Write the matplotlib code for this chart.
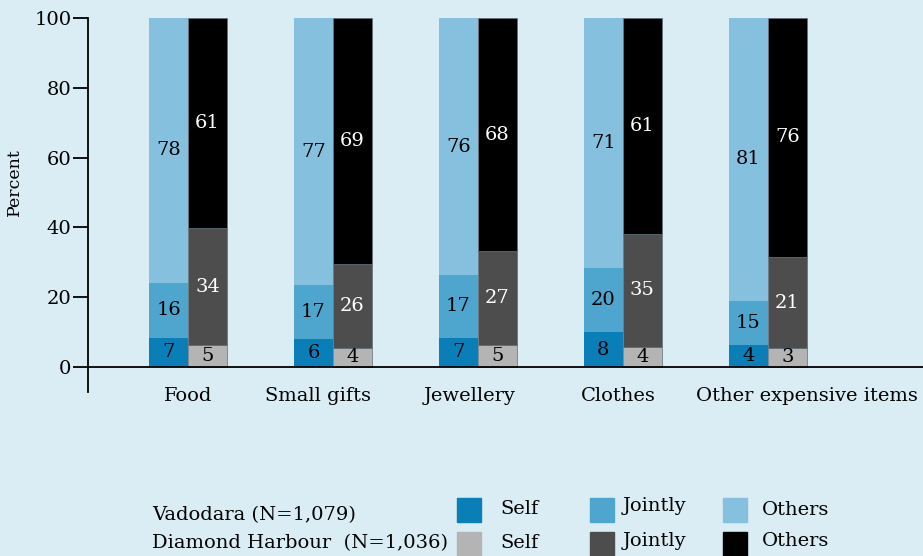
"""Who decides purchases: Vadodara vs Diamond Harbour, stacked percent bars."""
import numpy as np
import matplotlib.pyplot as plt
from matplotlib.patches import Rectangle

categories = ["Food", "Small gifts", "Jewellery", "Clothes", "Other expensive items"]
groups = ["Self", "Jointly", "Others"]

# segment heights as drawn in the source chart (percent), stacked bottom-up
vadodara = {
    "Self": [8.4, 7.9, 8.4, 9.9, 6.2],
    "Jointly": [15.7, 15.5, 17.9, 18.4, 12.7],
    "Others": [75.9, 76.6, 73.7, 71.7, 81.1],
}
diamond = {
    "Self": [6.2, 5.4, 6.2, 5.6, 5.4],
    "Jointly": [33.5, 24.0, 27.0, 32.6, 26.1],
    "Others": [60.3, 70.6, 66.8, 61.8, 68.5],
}
# printed (rounded) labels inside each segment
vadodara_labels = {
    "Self": [7, 6, 7, 8, 4],
    "Jointly": [16, 17, 17, 20, 15],
    "Others": [78, 77, 76, 71, 81],
}
diamond_labels = {
    "Self": [5, 4, 5, 4, 3],
    "Jointly": [34, 26, 27, 35, 21],
    "Others": [61, 69, 68, 61, 76],
}
region_labels = ["Vadodara (N=1,079)", "Diamond Harbour  (N=1,036)"]
y_ticks = [0, 20, 40, 60, 80, 100]

BG = "#daedf4"
V_COLORS = {"Self": "#0a7eb6", "Jointly": "#4ea6ce", "Others": "#85c1de"}
D_COLORS = {"Self": "#b4b4b4", "Jointly": "#4d4d4d", "Others": "#000000"}
V_TEXT = {"Self": "black", "Jointly": "black", "Others": "black"}
D_TEXT = {"Self": "black", "Jointly": "white", "Others": "white"}
# category captions sit a little off the bar pairs in the original layout
CAPTION_SHIFT = [0.0, -0.1, -0.06, -0.03, 0.27]

plt.rcParams["font.family"] = ["DejaVu Serif"]
plt.rcParams["font.size"] = 14

fig = plt.figure(figsize=(9.23, 5.56), dpi=100, facecolor=BG)
ax = fig.add_axes([88 / 923, 1 - 392 / 556, 835 / 923, 374 / 556])
ax.set_facecolor(BG)

x = np.arange(len(categories))
width = 0.269
series = [
    (vadodara, vadodara_labels, V_COLORS, V_TEXT, -width / 2, "none"),
    (diamond, diamond_labels, D_COLORS, D_TEXT, width / 2, "#60717a"),
]
for data, labels, colors, text_colors, offset, edge in series:
    bottom = np.zeros(len(categories))
    for g in groups:
        vals = np.array(data[g], dtype=float)
        bars = ax.bar(x + offset, vals, width, bottom=bottom, color=colors[g],
                      edgecolor=edge, linewidth=0.5)
        ax.bar_label(bars, labels=[str(v) for v in labels[g]], label_type="center",
                     color=text_colors[g], fontsize=14)
        bottom += vals

ax.set_xlim(-0.69, 5.07)
ax.set_ylim(-7.2, 100)
ax.axhline(0, color="black", linewidth=1.3)
for side in ["top", "right", "bottom"]:
    ax.spines[side].set_visible(False)
ax.spines["left"].set_linewidth(1.3)
ax.set_yticks(y_ticks)
ax.tick_params(axis="y", length=11, width=1.3, pad=1, labelsize=14)
ax.set_xticks([])
for xi, shift, name in zip(x, CAPTION_SHIFT, categories):
    ax.text(xi + shift, -8.3, name, ha="center", va="center", fontsize=14, clip_on=False)
ax.set_ylabel("Percent", fontsize=12.5, labelpad=6)
ax.yaxis.set_label_coords(-0.078, 0.56)

# legend drawn in figure pixel space
leg = fig.add_axes([0, 0, 1, 1], facecolor="none")
leg.set_xlim(0, 923)
leg.set_ylim(556, 0)
leg.axis("off")
leg.text(152, 515, region_labels[0], va="center", fontsize=14)
leg.text(152, 543, region_labels[1], va="center", fontsize=14)
sq_x = [457, 590, 723]
txt_x = [500, 623, 762]
v_txt_y = [509, 506, 510]
d_txt_y = [543, 541, 541]
for i, g in enumerate(groups):
    leg.add_patch(Rectangle((sq_x[i], 498), 24, 24, color=V_COLORS[g]))
    leg.add_patch(Rectangle((sq_x[i], 532), 24, 24, color=D_COLORS[g]))
    leg.text(txt_x[i], v_txt_y[i], g, va="center", fontsize=14)
    leg.text(txt_x[i], d_txt_y[i], g, va="center", fontsize=14)

fig.savefig("out.png", dpi=100, facecolor=BG)
